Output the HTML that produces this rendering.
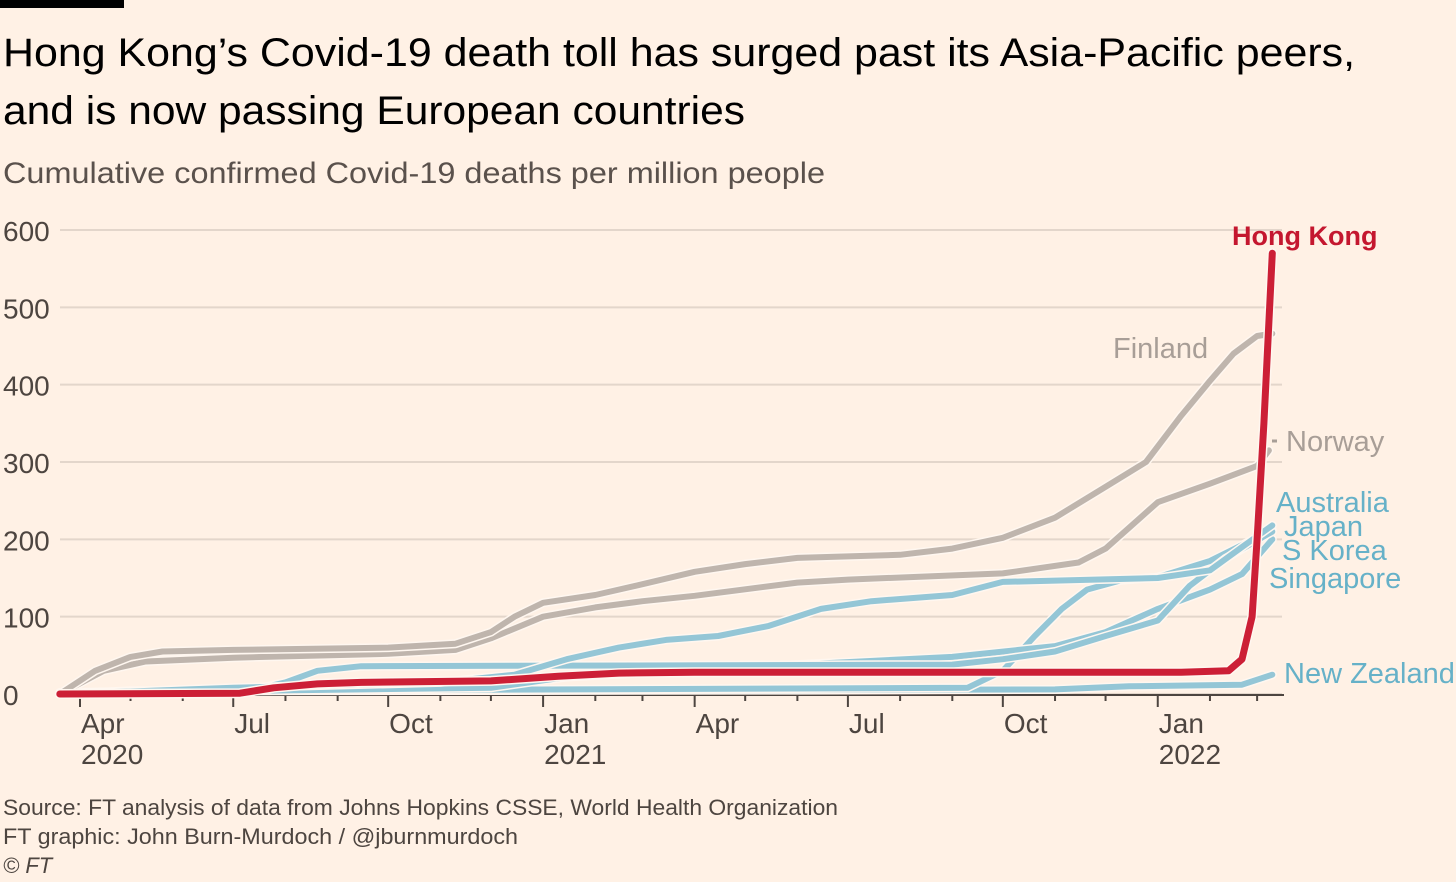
<!DOCTYPE html>
<html><head><meta charset="utf-8">
<style>
html,body{margin:0;padding:0;background:#fff1e5;}
svg{display:block;font-family:"Liberation Sans",sans-serif;}
</style></head>
<body>
<svg id="chart" width="1456" height="882" viewBox="0 0 1456 882" xmlns="http://www.w3.org/2000/svg">
<rect x="0" y="0" width="1456" height="882" fill="#fff1e5"/>
<rect x="0" y="0" width="124" height="8" fill="#000"/>
<text x="3" y="66" font-size="40" fill="#000" textLength="1352" lengthAdjust="spacingAndGlyphs">Hong Kong’s Covid-19 death toll has surged past its Asia-Pacific peers,</text>
<text x="3" y="124" font-size="40" fill="#000" textLength="742" lengthAdjust="spacingAndGlyphs">and is now passing European countries</text>
<text x="3" y="183" font-size="30" fill="#5a514c" textLength="822" lengthAdjust="spacingAndGlyphs">Cumulative confirmed Covid-19 deaths per million people</text>
<g id="grid"></g>
<g id="yticks"></g>
<g id="xaxis"></g>
<g id="series"></g>
<g id="labels"></g>
<text x="3" y="815" font-size="22" fill="#4d4540" textLength="835" lengthAdjust="spacingAndGlyphs">Source: FT analysis of data from Johns Hopkins CSSE, World Health Organization</text>
<text x="3" y="844" font-size="22" fill="#4d4540" textLength="515" lengthAdjust="spacingAndGlyphs">FT graphic: John Burn-Murdoch / @jburnmurdoch</text>
<text x="3" y="873" font-size="22" fill="#4d4540" font-style="italic">© FT</text>
</svg>
<script>
const yTicks = [0,100,200,300,400,500,600];
const xMajorDates = ["2020-04-01","2020-07-01","2020-10-01","2021-01-01","2021-04-01","2021-07-01","2021-10-01","2022-01-01"];
const xMajorLabels = ["Apr","Jul","Oct","Jan","Apr","Jul","Oct","Jan"];
const xYearLabels = ["2020","","","2021","","","","2022"];
const finlandDates = ["2020-03-20","2020-04-10","2020-05-01","2020-05-20","2020-07-01","2020-10-01","2020-11-10","2020-12-01","2020-12-15","2021-01-01","2021-02-01","2021-03-01","2021-04-01","2021-05-01","2021-06-01","2021-07-01","2021-08-01","2021-09-01","2021-10-01","2021-11-01","2021-12-01","2021-12-25","2022-01-15","2022-02-01","2022-02-15","2022-03-01","2022-03-10"];
const finlandValues = [0,30,48,55,57,60,65,80,100,118,128,142,158,168,176,178,180,188,202,228,268,300,360,405,440,463,466];
const norwayDates = ["2020-03-20","2020-04-15","2020-05-10","2020-07-01","2020-10-01","2020-11-10","2020-12-01","2021-01-01","2021-02-01","2021-03-01","2021-04-01","2021-06-01","2021-07-01","2021-10-01","2021-11-15","2021-12-01","2021-12-15","2022-01-01","2022-02-01","2022-03-01","2022-03-08"];
const norwayValues = [0,30,42,47,52,57,72,100,112,120,127,144,148,156,170,188,215,248,272,295,315];
const japanDates = ["2020-03-20","2020-07-01","2020-11-01","2020-12-15","2021-01-15","2021-02-15","2021-03-15","2021-04-15","2021-05-15","2021-06-15","2021-07-15","2021-09-01","2021-10-01","2022-01-01","2022-02-01","2022-02-20","2022-03-10"];
const japanValues = [0,8,15,25,45,60,70,75,88,110,120,128,145,150,160,190,218];
const australiaDates = ["2020-03-20","2020-07-10","2020-08-01","2020-08-20","2020-09-15","2021-09-01","2021-10-01","2021-11-01","2021-12-01","2022-01-01","2022-01-20","2022-02-10","2022-03-10"];
const australiaValues = [2,4,15,30,36,38,45,55,75,95,140,175,210];
const skoreaDates = ["2020-03-20","2020-12-01","2021-01-15","2021-06-01","2021-09-01","2021-11-01","2021-12-01","2022-01-01","2022-02-01","2022-02-20","2022-03-10"];
const skoreaValues = [1,8,22,38,48,62,80,110,135,155,200];
const singaporeDates = ["2020-03-20","2020-06-01","2021-09-10","2021-10-01","2021-10-20","2021-11-05","2021-11-20","2021-12-10","2022-01-01","2022-02-01","2022-03-10"];
const singaporeValues = [0,4,8,30,75,110,135,147,151,172,212];
const nzDates = ["2020-03-20","2020-05-01","2021-06-01","2021-11-01","2021-12-15","2022-02-20","2022-03-10"];
const nzValues = [0,4,5,6,10,12,25];
const hkDates = ["2020-03-20","2020-07-05","2020-07-25","2020-08-20","2020-09-15","2020-12-01","2021-01-10","2021-02-15","2021-04-01","2022-01-15","2022-02-12","2022-02-20","2022-02-26","2022-03-01","2022-03-05","2022-03-10"];
const hkValues = [0,1,8,13,15,17,23,27,28,28,30,45,100,200,350,570];

const NS="http://www.w3.org/2000/svg";
const T0=Date.UTC(2020,3,1);
function dayOf(s){const p=s.split("-");return (Date.UTC(+p[0],+p[1]-1,+p[2])-T0)/86400000;}
function xS(s){return 80+1.684*dayOf(s);}
function yS(v){return 694-v*0.7733;}
function mk(tag,attrs,parent){const e=document.createElementNS(NS,tag);for(const k in attrs)e.setAttribute(k,attrs[k]);parent.appendChild(e);return e;}

const grid=document.getElementById('grid'), yt=document.getElementById('yticks');
yTicks.forEach(v=>{
  const l=mk('line',{x1:60,x2:1282,y1:yS(v),y2:yS(v),stroke:'#e3d6cb','stroke-width':2},grid);
  
  
  const t=mk('text',{x:3,y:yS(v)+11,'font-size':28,fill:'#4d4540'},yt);
  t.textContent=String(v);
  
  
});
const xa=document.getElementById('xaxis');
const ax=mk('line',{x1:60,x2:1284,y1:695,y2:695,stroke:'#4d4540','stroke-width':2},xa);


for(let m=0;m<24;m++){
  const d=new Date(Date.UTC(2020,3+m,1));
  const ds=d.toISOString().slice(0,10);
  const major=(m%3===0);
  const tk=mk('line',{x1:xS(ds),x2:xS(ds),y1:695,y2:major?707:701,stroke:'#4d4540','stroke-width':2},xa);
  
  
}
xMajorDates.forEach((ds,i)=>{
  const t=mk('text',{x:xS(ds)+1,y:733,'font-size':28,fill:'#4d4540'},xa);
  t.textContent=xMajorLabels[i];
  
  
  if(xYearLabels[i]){
    const y=mk('text',{x:xS(ds)+1,y:764,'font-size':28,fill:'#4d4540'},xa);
    y.textContent=xYearLabels[i];
    
    
  }
});
const sg=document.getElementById('series');
function line(name,dates,vals,color,w){
  const pts=dates.map((d,i)=>xS(d).toFixed(1)+','+yS(vals[i]).toFixed(1)).join(' ');
  const h=mk('polyline',{points:pts,fill:'none',stroke:'#fff7f0','stroke-width':w+3,'stroke-linejoin':'round','stroke-linecap':'round'},sg);
  
  
  const p=mk('polyline',{points:pts,fill:'none',stroke:color,'stroke-width':w,'stroke-linejoin':'round','stroke-linecap':'round'},sg);
  
  
}
const BLUE='#94c6d6', GREY='#bfb5ad';
line('new-zealand',nzDates,nzValues,BLUE,6);
line('singapore',singaporeDates,singaporeValues,BLUE,6);
line('s-korea',skoreaDates,skoreaValues,BLUE,6);
line('australia',australiaDates,australiaValues,BLUE,6);
line('japan',japanDates,japanValues,BLUE,6);
line('norway',norwayDates,norwayValues,GREY,6);
line('finland',finlandDates,finlandValues,GREY,6);
line('hong-kong',hkDates,hkValues,'#cc1f36',7);

const lg=document.getElementById('labels');
const labs=[["Hong Kong",1232,245,'#c4172f','hong-kong-label'],["Finland",1113,358,'#a89e97','finland-label'],["Norway",1286,451,'#a89e97','norway-label'],["Australia",1276,512,'#66b1c8','australia-label'],["Japan",1284,536,'#66b1c8','japan-label'],["S Korea",1282,560,'#66b1c8','s-korea-label'],["Singapore",1269,588,'#66b1c8','singapore-label'],["New Zealand",1284,683,'#66b1c8','new-zealand-label']];
labs.forEach(a=>{
  const t=mk('text',{x:a[1],y:a[2],'font-size':a[0]==="Hong Kong"?27:29,fill:a[3],'font-weight':a[0]==="Hong Kong"?'bold':'normal'},lg);
  t.textContent=a[0];
  
  
});
const dash=mk('line',{x1:1272,x2:1277,y1:441,y2:441,stroke:'#a89e97','stroke-width':3},lg);


</script>
</body></html>
